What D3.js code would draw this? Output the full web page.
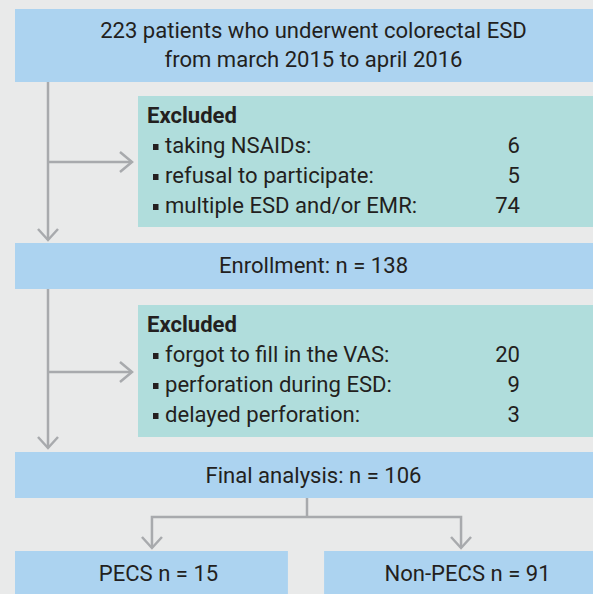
<!DOCTYPE html>
<html>
<head>
<meta charset="utf-8">
<script src="https://cdn.jsdelivr.net/npm/d3@7"></script>
<style>
  html, body { margin: 0; padding: 0; background: #e9eaea; }
  svg { display: block; }
  text { font-family: Roboto, "Noto Sans", sans-serif; fill: #231f20; }
</style>
</head>
<body>
<svg id="flow" width="593" height="594"></svg>
<script>
// data
const topLines = ['223 patients who underwent colorectal ESD', 'from march 2015 to april 2016']
const enrollLabel = 'Enrollment: n = 138'
const finalLabel = 'Final analysis: n = 106'
const excl1Reasons = ['taking NSAIDs:', 'refusal to participate:', 'multiple ESD and/or EMR:']
const excl1Counts = [6, 5, 74]
const excl2Reasons = ['forgot to fill in the VAS:', 'perforation during ESD:', 'delayed perforation:']
const excl2Counts = [20, 9, 3]
const groups = ['PECS', 'Non-PECS']
const groupN = [15, 91]

let W = 593
let H = 594
let blue = '#acd3f0'
let teal = '#b0dddc'
let lineCol = '#a8aaad'
let fontSize = 23
let sx = 1

let svg = d3.select('#flow')
svg.append('rect').attr('width', W).attr('height', H).attr('fill', '#e9eaea')

// text helper, horizontally squeezed to mimic the condensed face
function addText(parent, str, x, y, anchor, weight) {
    let g = parent.append('g').attr('class', 'lbl').attr('data-x', x).attr('data-y', y)
        .attr('transform', 'translate(' + x + ',' + y + ')')
    g.append('text').attr('text-anchor', anchor || 'start')
        .attr('font-size', fontSize)
        .attr('font-weight', weight || 400)
        .text(str)
    return g
}

function box(x0, y0, x1, y1, col) {
    svg.append('rect').attr('x', x0).attr('y', y0).attr('width', x1 - x0).attr('height', y1 - y0).attr('fill', col)
}

function line(pts) {
    svg.append('path').datum(pts).attr('d', d3.line()).attr('fill', 'none')
        .attr('stroke', lineCol).attr('stroke-width', 2.5)
}

function arrowDown(x, y) {
    line([[x - 10, y - 11], [x, y], [x + 10, y - 11]])
}

function arrowRight(x, y) {
    line([[x - 12, y - 10], [x, y], [x - 12, y + 10]])
}

// boxes
box(15, 9, W, 82, blue)
box(138, 96, W, 227, teal)
box(15, 243, W, 289, blue)
box(138, 305, W, 437, teal)
box(15, 452, W, 498, blue)

// group boxes from a band scale
let gx = d3.scaleBand().domain(groups).range([15, 597]).paddingInner(0.117)
groups.forEach(g => box(gx(g), 551, gx(g) + gx.bandwidth(), H + 2, blue))

// connectors
let spineX = 48
line([[spineX, 82], [spineX, 240]])
arrowDown(spineX, 240)
line([[spineX, 162], [132, 162]])
arrowRight(132, 162)
line([[spineX, 289], [spineX, 448]])
arrowDown(spineX, 448)
line([[spineX, 372], [132, 372]])
arrowRight(132, 372)

let splitX = groups.map(g => gx(g) + gx.bandwidth() / 2 + 0.5)
line([[307, 498], [307, 517]])
line([[splitX[0], 548], [splitX[0], 517], [splitX[1], 517], [splitX[1], 548]])
splitX.forEach(x => arrowDown(x, 548))

// texts
let centerX = 313.5
let first = addText(svg, topLines[0], centerX, 38, 'middle')
addText(svg, topLines[1], centerX, 67, 'middle')
addText(svg, enrollLabel, centerX, 273, 'middle')
addText(svg, finalLabel, centerX, 483, 'middle')
groups.forEach((g, i) => addText(svg, g + ' n = ' + groupN[i], splitX[i] + 6.5, 581, 'middle'))

function exclusion(top, reasons, counts) {
    addText(svg, 'Excluded', 147, top + 27, 'start', 700)
    let rowY = d3.scaleLinear().domain([0, 1]).range([top + 57, top + 87])
    reasons.forEach((r, i) => {
        let y = rowY(i)
        svg.append('rect').attr('x', 153).attr('y', y - 9).attr('width', 5.5).attr('height', 6).attr('fill', '#231f20')
        addText(svg, r, 165, y, 'start')
        addText(svg, counts[i], 520, y, 'end')
    })
}
exclusion(96, excl1Reasons, excl1Counts)
exclusion(305, excl2Reasons, excl2Counts)

// squeeze all text so the first title line is as wide as in the print
let w = first.select('text').node().getComputedTextLength()
sx = 427 / w
svg.selectAll('g.lbl').attr('transform', function () {
    let el = d3.select(this)
    return 'translate(' + el.attr('data-x') + ',' + el.attr('data-y') + ') scale(' + sx + ',1)'
})
</script>
</body>
</html>
